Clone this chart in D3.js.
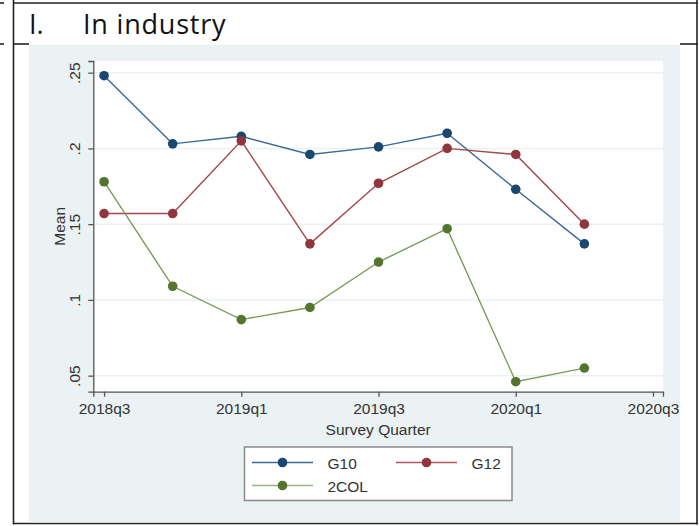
<!DOCTYPE html>
<html><head><meta charset="utf-8">
<script src="https://cdn.jsdelivr.net/npm/d3@7"></script>
<style>body{margin:0;background:#fff;}svg{display:block;}</style>
</head><body>
<svg id="chart" width="699" height="526"></svg>
<script>
const quarters = ["2018q3","2018q4","2019q1","2019q2","2019q3","2019q4","2020q1","2020q2"];
const g10  = [0.248, 0.203, 0.208, 0.196, 0.201, 0.210, 0.173, 0.137];
const g12  = [0.157, 0.157, 0.205, 0.137, 0.177, 0.200, 0.196, 0.150];
const col2 = [0.178, 0.109, 0.087, 0.095, 0.125, 0.147, 0.046, 0.055];
const xTickLabels = ["2018q3","2019q1","2019q3","2020q1","2020q3"];
const yTicks = [0.05, 0.1, 0.15, 0.2, 0.25];
const yTickLabels = [".05", ".1", ".15", ".2", ".25"];
const seriesNames = ["G10", "G12", "2COL"];

const svg = d3.select("#chart");
const font = "'Liberation Sans', Arial, sans-serif";

// outer table frame
const frame = svg.append("g").attr("stroke", "#222").attr("stroke-width", 1.6);
frame.append("line").attr("x1", 0).attr("x2", 4).attr("y1", 3).attr("y2", 3);
frame.append("line").attr("x1", 13.5).attr("x2", 698).attr("y1", 3).attr("y2", 3);
frame.append("line").attr("x1", 0).attr("x2", 4).attr("y1", 44).attr("y2", 44);
frame.append("line").attr("x1", 13.5).attr("x2", 29).attr("y1", 44).attr("y2", 44);
frame.append("line").attr("x1", 680).attr("x2", 698).attr("y1", 44).attr("y2", 44);
frame.append("line").attr("x1", 13.5).attr("x2", 13.5).attr("y1", 0).attr("y2", 524.5);
frame.append("line").attr("x1", 697).attr("x2", 697).attr("y1", 0).attr("y2", 524.5);
frame.append("line").attr("x1", 13.5).attr("x2", 698).attr("y1", 523.5).attr("y2", 523.5);

// title
const titleFont = "'Open Sans', 'Noto Sans', sans-serif";
svg.append("text").attr("x", 29).attr("y", 34).attr("font-family", titleFont)
  .attr("font-size", 27).attr("fill", "#111").text("I.");
svg.append("text").attr("x", 83).attr("y", 34).attr("font-family", titleFont)
  .attr("font-size", 27).attr("letter-spacing", 0.8).attr("fill", "#111").text("In industry");

// graph background
svg.append("rect").attr("x", 29).attr("y", 44.8).attr("width", 651).attr("height", 477.5).attr("fill", "#eaf2f3");

const x = d3.scaleLinear().domain([-0.157, 8.146]).range([93.3, 663]);
const y = d3.scaleLinear().domain([0.0394, 0.2577]).range([391.7, 61]);

// plot region
svg.append("rect").attr("x", x.range()[0]).attr("y", y.range()[1])
  .attr("width", x.range()[1] - x.range()[0]).attr("height", y.range()[0] - y.range()[1]).attr("fill", "#fff");

// gridlines
svg.append("g").selectAll("line").data(yTicks).join("line")
  .attr("x1", x.range()[0]).attr("x2", x.range()[1])
  .attr("y1", d => y(d)).attr("y2", d => y(d))
  .attr("stroke", "#eaf2f3").attr("stroke-width", 1.5);

// axes
const xAxis = d3.axisBottom(x).tickValues([0, 2, 4, 6, 8]).tickFormat((d, i) => xTickLabels[i]).tickSize(5).tickPadding(6);
const gx = svg.append("g").attr("transform", `translate(0,${y.range()[0]})`).call(xAxis);
gx.select(".domain").attr("stroke", "#555").attr("stroke-width", 1.3);
gx.selectAll(".tick line").attr("stroke", "#555").attr("stroke-width", 1.3);
gx.selectAll(".tick text").attr("font-family", font).attr("font-size", 15.5).attr("fill", "#333").attr("dy", "0.72em");

const yAxis = d3.axisLeft(y).tickValues(yTicks).tickFormat((d, i) => yTickLabels[i]).tickSize(5).tickPadding(8);
const gy = svg.append("g").attr("transform", `translate(${x.range()[0]},0)`).call(yAxis);
gy.select(".domain").attr("stroke", "#555").attr("stroke-width", 1.3);
gy.selectAll(".tick line").attr("stroke", "#555").attr("stroke-width", 1.3);
gy.selectAll(".tick text").attr("font-family", font).attr("font-size", 15.5).attr("fill", "#333")
  .attr("x", null).attr("dy", null).attr("text-anchor", "middle")
  .attr("transform", "translate(-13,0) rotate(-90)");

// axis titles
svg.append("text").attr("x", (x.range()[0] + x.range()[1]) / 2).attr("y", 435)
  .attr("text-anchor", "middle").attr("font-family", font).attr("font-size", 15.5).attr("fill", "#333")
  .text("Survey Quarter");
svg.append("text").attr("transform", `translate(65,${(y.range()[0] + y.range()[1]) / 2}) rotate(-90)`)
  .attr("text-anchor", "middle").attr("font-family", font).attr("font-size", 15.5).attr("fill", "#333")
  .text("Mean");

// series
const lineColors = ["#3b6a96", "#a3464d", "#7b9a58"];
const markColors = ["#1a476f", "#90353b", "#55752f"];
const allSeries = [g10, g12, col2];
const line = d3.line().x((d, i) => x(i)).y(d => y(d));
allSeries.forEach((s, k) => {
  svg.append("path").datum(s).attr("d", line).attr("fill", "none")
    .attr("stroke", lineColors[k]).attr("stroke-width", 1.4);
});
allSeries.forEach((s, k) => {
  svg.append("g").selectAll("circle").data(s).join("circle")
    .attr("cx", (d, i) => x(i)).attr("cy", d => y(d)).attr("r", 4.8)
    .attr("fill", markColors[k]);
});

// legend
const lg = svg.append("g");
lg.append("rect").attr("x", 244.5).attr("y", 447).attr("width", 267.5).attr("height", 53.5)
  .attr("fill", "#fff").attr("stroke", "#8a8a8a").attr("stroke-width", 1.5);
const legPos = [[252, 462.5], [396, 462.5], [252, 485.5]];
const legLineColors = ["#3b6a96", "#b0565d", "#9ab583"];
seriesNames.forEach((n, k) => {
  const [lx, ly] = legPos[k];
  lg.append("line").attr("x1", lx).attr("x2", lx + 61).attr("y1", ly).attr("y2", ly)
    .attr("stroke", legLineColors[k]).attr("stroke-width", 1.4);
  lg.append("circle").attr("cx", lx + 30.5).attr("cy", ly).attr("r", 4.8).attr("fill", markColors[k]);
  lg.append("text").attr("x", lx + 75.5).attr("y", ly + 6).attr("font-family", font).attr("font-size", 15.5)
    .attr("fill", "#333").text(n);
});
</script>
</body></html>
